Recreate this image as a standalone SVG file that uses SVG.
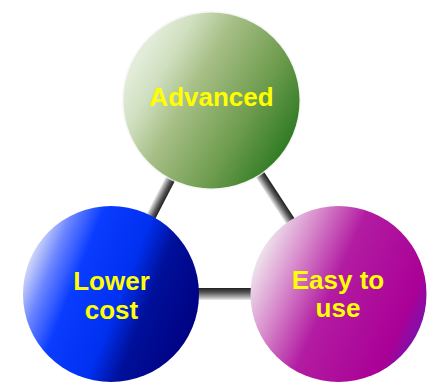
<svg xmlns="http://www.w3.org/2000/svg" width="429" height="382" viewBox="0 0 429 382">
<style>
.lbl{font-family:"Liberation Sans",Arial,sans-serif;font-weight:bold;font-size:26px;fill:#ffff00;text-anchor:middle}
.halo{fill:none;stroke:#f4f4f4;stroke-width:3;opacity:0.8}
</style>
<defs>
<linearGradient id="tube" x1="0" y1="0" x2="0" y2="1">
<stop offset="0" stop-color="#1e1e1e"/>
<stop offset="0.4" stop-color="#5a5a5a"/>
<stop offset="0.8" stop-color="#b8b8b8"/>
<stop offset="1" stop-color="#ececec"/>
</linearGradient>
<linearGradient id="gGreen" x1="0.1" y1="0.25" x2="0.95" y2="0.75">
<stop offset="0" stop-color="#e2ecd8"/>
<stop offset="0.15" stop-color="#cfdfbf"/>
<stop offset="0.35" stop-color="#a7bf86"/>
<stop offset="0.7" stop-color="#6e9c4e"/>
<stop offset="1" stop-color="#2e7a22"/>
</linearGradient>
<linearGradient id="gBlue" x1="0" y1="0.3" x2="1" y2="0.7">
<stop offset="0" stop-color="#f0f0f5"/>
<stop offset="0.15" stop-color="#6c86ff"/>
<stop offset="0.3" stop-color="#0a3cff"/>
<stop offset="0.55" stop-color="#0030f0"/>
<stop offset="0.7" stop-color="#00109a"/>
<stop offset="1" stop-color="#000080"/>
</linearGradient>
<linearGradient id="gPink" x1="0" y1="0.3" x2="1" y2="0.75">
<stop offset="0" stop-color="#f2f2f2"/>
<stop offset="0.22" stop-color="#d88ccc"/>
<stop offset="0.45" stop-color="#b21ca2"/>
<stop offset="0.85" stop-color="#aa0096"/>
<stop offset="1" stop-color="#6a18b4"/>
</linearGradient>
</defs>
<g id="connectors">
<g transform="translate(211,100) rotate(117.27)"><rect x="0" y="-5" width="218" height="10" fill="url(#tube)"/></g>
<g transform="translate(211,100) rotate(56.79)"><rect x="0" y="-5" width="232" height="10" fill="url(#tube)"/></g>
<g transform="translate(111,294)"><rect x="0" y="-6" width="227" height="12" fill="url(#tube)"/></g>
</g>
<g id="advanced">
<circle cx="211.5" cy="100.5" r="88" class="halo"/>
<circle cx="211.5" cy="100.5" r="88" fill="url(#gGreen)"/>
<text x="211.5" y="106" class="lbl">Advanced</text>
</g>
<g id="lower-cost">
<circle cx="111" cy="294" r="88" fill="url(#gBlue)"/>
<text x="111.5" y="290" class="lbl">Lower</text>
<text x="111.5" y="319" class="lbl">cost</text>
</g>
<g id="easy-to-use">
<circle cx="338.5" cy="294" r="88" fill="url(#gPink)"/>
<text x="338" y="289" class="lbl">Easy to</text>
<text x="338" y="317" class="lbl">use</text>
</g>
</svg>
